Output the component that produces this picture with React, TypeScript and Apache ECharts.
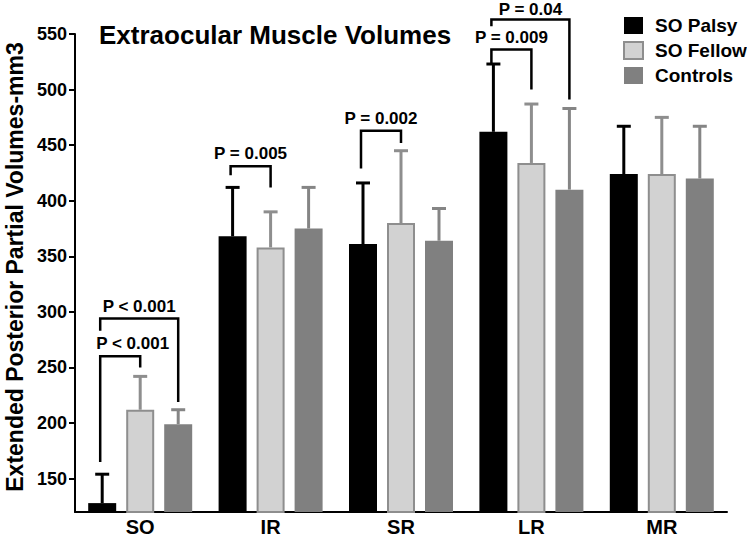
import React, { useEffect, useRef } from "react";
import * as echarts from "echarts";

const categories = ["SO", "IR", "SR", "LR", "MR"];
const seriesNames = ["SO Palsy", "SO Fellow", "Controls"];
const palsyMean = [128, 368, 361, 462, 424];
const palsyUpper = [154, 412, 416, 523, 467];
const fellowMean = [212, 358, 380, 434, 424];
const fellowUpper = [242, 390, 445, 487, 475];
const controlMean = [199, 375, 364, 410, 420];
const controlUpper = [212, 412, 393, 483, 467];

// brackets: category index, series indices compared, bracket top value, leg end values, label
const bracketCats = [0, 0, 1, 2, 3, 3];
const bracketFrom = [0, 0, 0, 0, 0, 0];
const bracketTo = [1, 2, 1, 1, 1, 2];
const bracketTop = [260, 294, 431, 463, 536, 563];
const bracketLeftEnd = [165, 283, 423, 429, 524, 557];
const bracketRightEnd = [250, 219, 412, 452, 500, 491];
const bracketLabels = ["P < 0.001", "P < 0.001", "P = 0.005", "P = 0.002", "P = 0.009", "P = 0.04"];

const FONT = "'Liberation Sans', Arial, Helvetica, sans-serif";
const BAR_W = 28;
const BAR_GAP = 10;
const fills = ["#000000", "#d2d2d2", "#808080"];
const errColors = ["#000000", "#8e8e8e", "#858585"];

const offsetOf = (s: number) => (s - 1) * (BAR_W + BAR_GAP);

export default function App() {
  const ref = useRef<HTMLDivElement>(null);
  useEffect(() => {
    if (!ref.current) return;
    const chart = echarts.init(ref.current, null, { renderer: "svg" });
    const means = [palsyMean, fellowMean, controlMean];
    const uppers = [palsyUpper, fellowUpper, controlUpper];

    const errData: number[][] = [];
    for (let s = 0; s < 3; s++) {
      for (let c = 0; c < categories.length; c++) {
        errData.push([c, uppers[s][c], means[s][c], s]);
      }
    }
    const bracketData = bracketCats.map((c, i) => [c, bracketTop[i], i]);

    const barSeries = [0, 1, 2].map((s) => ({
      name: seriesNames[s],
      type: "bar",
      data: means[s],
      barWidth: BAR_W,
      barGap: `${(BAR_GAP / BAR_W) * 100}%`,
      itemStyle:
        s === 1
          ? { color: fills[s], borderColor: "#8e8e8e", borderWidth: 2 }
          : { color: fills[s] },
      z: 2,
    }));

    const option: any = {
      animation: false,
      title: {
        text: "Extraocular Muscle Volumes",
        left: 99,
        top: 22,
        padding: 0,
        textStyle: { fontFamily: FONT, fontWeight: "bold", fontSize: 26, color: "#000" },
      },
      legend: {
        orient: "vertical",
        left: 623,
        top: 16,
        padding: 0,
        itemWidth: 19,
        itemHeight: 17,
        itemGap: 6,
        icon: "rect",
        data: seriesNames,
        textStyle: {
          fontFamily: FONT,
          fontWeight: "bold",
          fontSize: 19,
          color: "#000",
          padding: [0, 0, 0, 7],
        },
      },
      grid: { left: 75, right: 20, top: 34, bottom: 27, containLabel: false, outerBoundsMode: "none" },
      xAxis: {
        type: "category",
        data: categories,
        axisLine: { lineStyle: { color: "#000", width: 2 } },
        axisTick: { alignWithLabel: true, length: 6, lineStyle: { color: "#000", width: 2 } },
        axisLabel: { fontFamily: FONT, fontWeight: "bold", fontSize: 20, color: "#000", margin: 5 },
      },
      yAxis: {
        type: "value",
        min: 120,
        max: 550,
        minInterval: 50,
        maxInterval: 50,
        name: "Extended Posterior Partial Volumes-mm3",
        nameLocation: "middle",
        nameGap: 49,
        nameRotate: 90,
        nameTextStyle: { fontFamily: FONT, fontWeight: "bold", fontSize: 23, color: "#000", padding: [0, 0, 0, 12] },
        axisLine: { show: true, lineStyle: { color: "#000", width: 2 } },
        axisTick: { show: true, length: 6, lineStyle: { color: "#000", width: 2 } },
        axisLabel: {
          fontFamily: FONT,
          fontWeight: "bold",
          fontSize: 18,
          color: "#000",
          margin: 8,
          showMinLabel: false,
        },
        splitLine: { show: false },
      },
      series: [
        ...barSeries,
        {
          type: "custom",
          name: "err",
          data: errData,
          encode: { x: 0, y: 1 },
          z: 3,
          clip: false,
          renderItem: (params: any, api: any) => {
            const c = api.value(0);
            const up = api.value(1);
            const mean = api.value(2);
            const s = api.value(3);
            const pTop = api.coord([c, up]);
            const pBase = api.coord([c, mean]);
            const x = pTop[0] + offsetOf(s);
            const col = errColors[s];
            return {
              type: "group",
              children: [
                {
                  type: "line",
                  shape: { x1: x, y1: pBase[1], x2: x, y2: pTop[1] },
                  style: { stroke: col, lineWidth: 3 },
                },
                {
                  type: "line",
                  shape: { x1: x - 7, y1: pTop[1], x2: x + 7, y2: pTop[1] },
                  style: { stroke: col, lineWidth: 3 },
                },
              ],
            };
          },
        },
        {
          type: "custom",
          name: "brackets",
          data: bracketData,
          encode: { x: 0, y: 1 },
          z: 4,
          clip: false,
          renderItem: (params: any, api: any) => {
            const i = params.dataIndex;
            const c = bracketCats[i];
            const pTop = api.coord([c, bracketTop[i]]);
            const pL = api.coord([c, bracketLeftEnd[i]]);
            const pR = api.coord([c, bracketRightEnd[i]]);
            const xL = pTop[0] + offsetOf(bracketFrom[i]) - 2;
            const xR = pTop[0] + offsetOf(bracketTo[i]);
            const leftAligned = i === 0;
            return {
              type: "group",
              children: [
                {
                  type: "polyline",
                  shape: { points: [[xL, pL[1]], [xL, pTop[1]], [xR, pTop[1]], [xR, pR[1]]] },
                  style: { stroke: "#000", lineWidth: 2.5, fill: null },
                },
                {
                  type: "text",
                  style: {
                    text: bracketLabels[i],
                    x: leftAligned ? xL - 4 : (xL + xR) / 2,
                    y: Math.max(pTop[1] - 4, 18),
                    align: leftAligned ? "left" : "center",
                    verticalAlign: "bottom",
                    fill: "#000",
                    font: `bold 17px ${FONT}`,
                  },
                },
              ],
            };
          },
        },
      ],
    };
    chart.setOption(option);
    return () => chart.dispose();
  }, []);
  return (
    <div
      ref={ref}
      style={{ position: "absolute", left: 0, top: 0, width: 747, height: 539, background: "#fff" }}
    />
  );
}
